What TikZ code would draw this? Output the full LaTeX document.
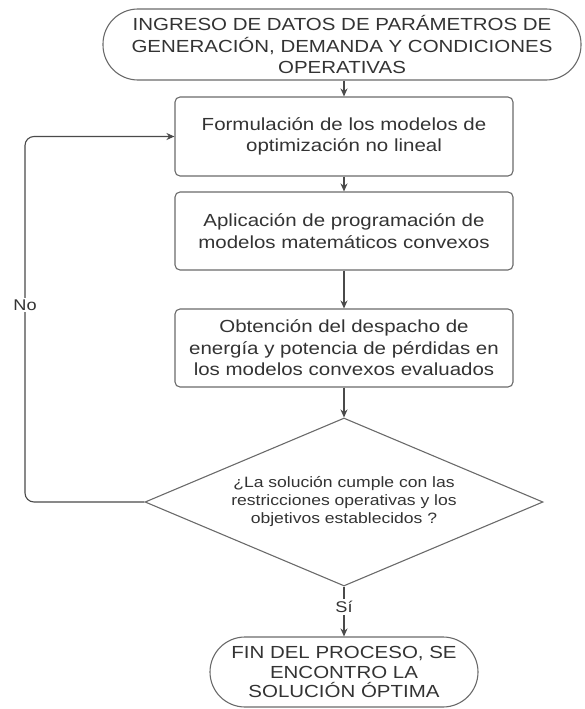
\documentclass[tikz,border=0pt]{standalone}
\usepackage{fontspec}
\setmainfont{Liberation Sans}[FakeStretch=1.17]
\usetikzlibrary{shapes.geometric,arrows.meta}
\definecolor{txt}{HTML}{333333}
\definecolor{edge}{HTML}{6A6A6A}
\definecolor{conn}{HTML}{4A4A4A}
\tikzset{
  term/.style={draw=edge, line width=1.1pt, rounded corners=35pt, inner sep=0pt, align=center, text=txt,
    font=\fontsize{17.5}{21.5}\selectfont},
  procbox/.style={draw=edge, line width=1.1pt, rounded corners=5pt, inner sep=0pt, align=center, text=txt,
    minimum width=338pt, font=\fontsize{17.5}{21.5}\selectfont},
  decision/.style={draw=edge, line width=1.1pt, shape=diamond, shape aspect=2.37, inner sep=0pt, align=center, text=txt,
    minimum width=398pt, minimum height=168pt, font=\fontsize{15}{18}\selectfont},
  arr/.style={draw=conn, line width=1.1pt, -{Stealth[length=8pt,width=7pt]}},
  lbl/.style={fill=white, text=txt, inner sep=2pt, font=\fontsize{15.5}{18}\selectfont}
}
\begin{document}
\begin{tikzpicture}[x=1pt,y=-1pt]
\useasboundingbox (0,0) rectangle (584,709);
\node[term, minimum width=478pt, minimum height=71pt] (start) at (342,44.5)
  {INGRESO DE DATOS DE PARÁMETROS DE\\GENERACIÓN, DEMANDA Y CONDICIONES\\OPERATIVAS};
\node[procbox, minimum height=79pt] (b1) at (344,136.5)
  {Formulación de los modelos de\\optimización no lineal};
\node[procbox, minimum height=78pt] (b2) at (344,231)
  {Aplicación de programación de\\modelos matemáticos convexos};
\node[procbox, minimum height=78pt] (b3) at (344,348)
  {Obtención del despacho de\\energía y potencia de pérdidas en\\los modelos convexos evaluados};
\node[decision] (dia) at (344,502)
  {¿La solución cumple con las\\restricciones operativas y los\\objetivos establecidos ?};
\node[term, minimum width=268pt, minimum height=70pt, font=\fontsize{17.5}{19.5}\selectfont] (fin) at (344,672)
  {FIN DEL PROCESO, SE\\ENCONTRO LA\\SOLUCIÓN ÓPTIMA};
\coordinate (c1) at (25,502);
\draw[arr] (start.south -| b1.north) -- (b1.north);
\draw[arr] (b1) -- (b2);
\draw[arr] (b2) -- (b3);
\draw[arr] (b3) -- (dia);
\draw[arr] (dia.south) -- (fin.north);
\draw[arr, rounded corners=9pt] (dia.west) -- (c1) -- (c1 |- b1.west) -- (b1.west);
\node[lbl] (no) at (25,305) {No};
\node[lbl] (si) at (344,607) {Sí};
\end{tikzpicture}
\end{document}
